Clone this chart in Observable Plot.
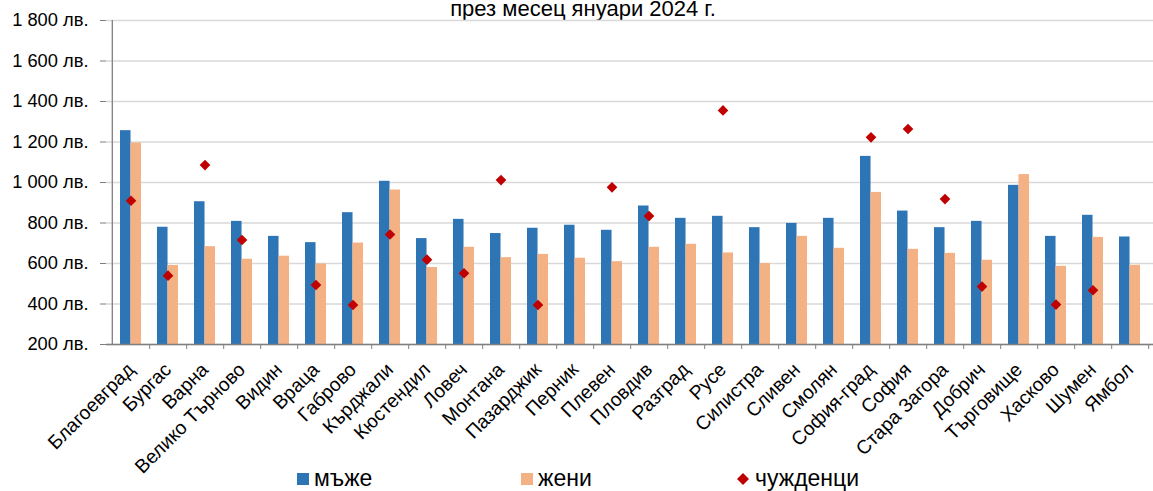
<!DOCTYPE html>
<html>
<head>
<meta charset="utf-8">
<script src="https://cdn.jsdelivr.net/npm/d3@7"></script>
<script src="https://cdn.jsdelivr.net/npm/@observablehq/plot@0.6"></script>
<style>
  html, body { margin: 0; padding: 0; background: #fff; overflow: hidden; }
  body { width: 1153px; height: 491px; position: relative; font-family: "Liberation Sans", Arial, sans-serif; }
  #title { position: absolute; left: 0; width: 1166px; top: -2px; text-align: center; font-size: 22px; line-height: 22px; color: #000; white-space: nowrap; }
  .leg { position: absolute; font-size: 23px; line-height: 23px; top: 467px; color: #000; }
  .sw { position: absolute; width: 12px; height: 12px; top: 473px; }
  #chart { position: absolute; left: 0; top: 0; }
</style>
</head>
<body>
<div id="title">през месец януари 2024 г.</div>
<div id="chart"></div>
<div class="sw" id="sw0"></div><div class="leg" id="lg0"></div>
<div class="sw" id="sw1"></div><div class="leg" id="lg1"></div>
<svg id="sw2" width="14" height="14" style="position:absolute;left:736px;top:472px"><path d="M7,1 L13,7 L7,13 L1,7 Z"></path></svg><div class="leg" id="lg2"></div>
<script>
const regions = ["Благоевград","Бургас","Варна","Велико Търново","Видин","Враца","Габрово","Кърджали","Кюстендил","Ловеч","Монтана","Пазарджик","Перник","Плевен","Пловдив","Разград","Русе","Силистра","Сливен","Смолян","София-град","София","Стара Загора","Добрич","Търговище","Хасково","Шумен","Ямбол"];
const men = [1256,779,905,808,734,703,851,1006,723,818,748,774,789,764,884,823,833,777,798,823,1129,859,777,808,986,734,838,731];
const women = [1195,590,683,621,636,598,701,963,580,680,629,645,626,609,680,695,652,600,734,675,951,670,650,616,1039,586,729,591];
const foreigners = [910,540,1086,716,null,494,395,743,619,552,1012,395,null,976,834,null,1356,null,null,null,1223,1264,918,486,null,397,468,null];
const seriesNames = ["мъже","жени","чужденци"];
const yTicks = [200,400,600,800,1000,1200,1400,1600,1800];

const colors = ["#2E75B6", "#F4B183", "#C00000"];

const W = 1153, H = 491, mL = 106, mR = 0, mT = 20, mB = 147;
const padInner = 0.44, padOuter = 0.22;
const step = (W - mL - mR) / regions.length;
const half = step * (1 - padInner) / 2;

const menData = regions.map((r, i) => ({region: r, value: men[i]}));
const womenData = regions.map((r, i) => ({region: r, value: women[i]}));
const forData = regions.map((r, i) => ({region: r, value: foreigners[i]})).filter(d => d.value != null);

const loc = d3.formatLocale({thousands: " ", grouping: [3], decimal: ",", currency: ["", ""]});
const fmt = v => loc.format(",")(v) + " лв.";

const font = "Liberation Sans, Arial, sans-serif";

const plot = Plot.plot({
  width: W, height: H,
  marginLeft: mL, marginRight: mR, marginTop: mT, marginBottom: mB,
  style: {fontFamily: font, fontSize: "18.3px", color: "#000", background: "transparent"},
  x: {domain: regions, paddingInner: padInner, paddingOuter: padOuter, label: null},
  y: {domain: [200, 1800], label: null},
  marks: [
    Plot.gridY(yTicks, {stroke: "#d9d9d9", strokeOpacity: 1, strokeWidth: 1.3}),
    Plot.barY(menData, {x: "region", y: "value", fill: colors[0], insetRight: half, clip: true}),
    Plot.barY(womenData, {x: "region", y: "value", fill: colors[1], insetLeft: half, clip: true}),
    Plot.ruleY([200], {stroke: "#7f7f7f", strokeWidth: 1.3}),
    Plot.ruleX([regions[0]], {dx: -step / 2, stroke: "#7f7f7f", strokeWidth: 1.3}),
    Plot.dot(forData, {x: "region", y: "value", symbol: "diamond2", r: 4.8, fill: colors[2], stroke: "none"}),
    Plot.axisY(yTicks, {tickSize: 6, tickPadding: 12, tickFormat: fmt, stroke: "#7f7f7f", fill: "#000", fontSize: "18.3px"}),
    Plot.axisX({tickSize: 5, tickFormat: () => "", dx: step / 2, stroke: "#7f7f7f"}),
    Plot.axisX({tickSize: 0, tickPadding: 22, tickRotate: -45, fill: "#000", fontSize: "19.3px"})
  ]
});
document.getElementById("chart").appendChild(plot);

// legend
const legPos = [[297, 314], [521, 538], [736, 755]];
seriesNames.forEach((n, i) => {
  const lg = document.getElementById("lg" + i);
  lg.textContent = n;
  lg.style.left = legPos[i][1] + "px";
  if (i < 2) {
    const sw = document.getElementById("sw" + i);
    sw.style.left = legPos[i][0] + "px";
    sw.style.background = colors[i];
  } else {
    document.querySelector("#sw2 path").setAttribute("fill", colors[i]);
  }
});
</script>
</body>
</html>
